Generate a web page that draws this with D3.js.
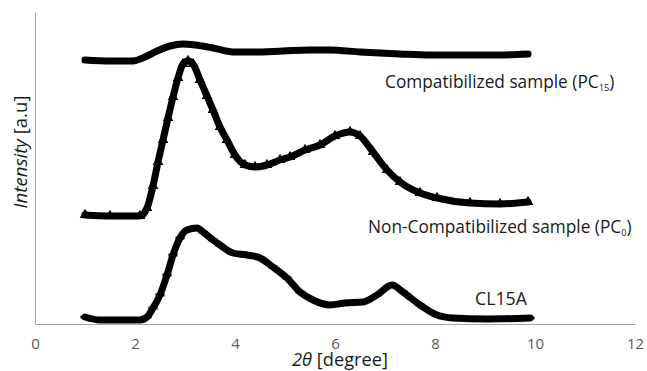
<!DOCTYPE html>
<html><head><meta charset="utf-8">
<script src="https://cdn.jsdelivr.net/npm/d3@7"></script>
<style>body{margin:0;background:#fff}</style>
</head><body>
<svg id="c" width="647" height="371"></svg>
<script>
const xTicks = [0, 2, 4, 6, 8, 10, 12];
const pc15X = [1.0,1.5,1.96,2.2,2.44,2.7,2.96,3.2,3.56,3.96,4.36,4.96,5.5,5.9,6.5,7.3,7.9,8.7,9.3,9.86];
const pc15Y = [264,263,263,267,273,278,280,279,276,272,272,273,274,274,272,270,269,269,269,270];
const pc0X = [1.0,1.5,2.1,2.24,2.36,2.46,2.56,2.66,2.76,2.86,2.96,3.06,3.16,3.3,3.44,3.56,3.7,3.84,4.0,4.2,4.4,4.64,4.9,5.1,5.4,5.7,6.0,6.3,6.5,6.76,7.04,7.3,7.7,8.04,8.7,9.3,9.86];
const pc0Y = [109,108,108,116,138,162,184,206,227,246,260,263,260,244,228,214,197,184,169,159,157,159,164,167,174,179,188,192,188,172,154,142,131,126,121,120,122];
const clX = [1.0,1.3,2.1,2.24,2.36,2.5,2.64,2.76,2.9,3.04,3.24,3.36,3.56,3.7,3.96,4.24,4.5,4.76,5.04,5.3,5.56,5.9,6.2,6.56,6.84,7.14,7.36,7.7,8.04,8.36,9.04,9.9];
const clY = [7,4,4,7,16,29,49,69,86,94,96,92,84,79,71,69,66,57,46,32,24,19,21,22,29,39,32,19,9,6,5,6];

const svg = d3.select('#c');
const x = d3.scaleLinear().domain([0,12]).range([35,635]);
const y = d3.scaleLinear().domain([0,312]).range([324,12]);
const lf = '"Open Sans", sans-serif';

// axes
const xAxis = d3.axisBottom(x).tickValues(xTicks).tickSize(0).tickPadding(14);
const gx = svg.append('g').attr('transform','translate(0,324)').call(xAxis);
gx.select('.domain').attr('stroke','#a6a6a6').attr('stroke-width',1);
gx.selectAll('text').attr('font-family',lf).attr('font-size',15).attr('fill','#595959');
const gy = svg.append('g').attr('transform','translate(35,0)').call(d3.axisLeft(y).tickValues([]).tickSize(0));
gy.select('.domain').attr('stroke','#a6a6a6').attr('stroke-width',1);

const line = d3.line().x(d=>x(d[0])).y(d=>y(d[1])).curve(d3.curveMonotoneX);
function series(xs, ys){ return xs.map((v,i)=>[v, ys[i]]); }
const data = [series(pc15X,pc15Y), series(pc0X,pc0Y), series(clX,clY)];
svg.append('g').selectAll('path').data(data).join('path')
  .attr('d', line).attr('fill','none').attr('stroke','#000')
  .attr('stroke-width',7).attr('stroke-linejoin','round').attr('stroke-linecap','round');

// triangle markers for PC0
svg.append('g').selectAll('path').data(data[1]).join('path')
  .attr('transform', d=>`translate(${x(d[0])},${y(d[1])})`)
  .attr('d', d3.symbol().type(d3.symbolTriangle).size(50)).attr('fill','#000');
// dash markers for CL15A
svg.append('g').selectAll('rect').data(data[2]).join('rect')
  .attr('x', d=>x(d[0])-4.5).attr('y', d=>y(d[1])-1.5).attr('width',9).attr('height',3).attr('fill','#000');

function fit(t, w){
  const n = t.node(); const L = n.getComputedTextLength();
  const fs = +t.attr('font-size');
  const k = w / L;
  t.attr('font-size', fs*k);
  t.selectAll('tspan.sub').attr('font-size', 9*k*0.9);
}
function label(xp, yp, main, sub, w){
  const t = svg.append('text').attr('x',xp).attr('y',yp).attr('font-family',lf).attr('font-size',15).attr('fill','#1a1a1a');
  t.append('tspan').text(main);
  if (sub){
    t.append('tspan').attr('class','sub').attr('font-size',10).attr('dy',3).text(sub);
    t.append('tspan').attr('dy',-3).text(')');
  }
  fit(t, w);
  return t;
}
label(385, 88, 'Compatibilized sample (PC', '15', 232);
label(368, 233, 'Non-Compatibilized sample (PC', '0', 265);
label(475, 305, 'CL15A', null, 52);

const xl = svg.append('text').attr('x',340).attr('y',366).attr('text-anchor','middle').attr('font-family',lf).attr('font-size',15).attr('fill','#1a1a1a');
xl.append('tspan').attr('font-style','italic').text('2θ');
xl.append('tspan').text(' [degree]');
fit(xl, 96);
const yl = svg.append('text').attr('transform','translate(27,152) rotate(-90)').attr('text-anchor','middle').attr('font-family',lf).attr('font-size',16).attr('fill','#1a1a1a');
yl.append('tspan').attr('font-style','italic').text('Intensity');
yl.append('tspan').text(' [a.u]');
fit(yl, 113);
</script>
</body></html>
